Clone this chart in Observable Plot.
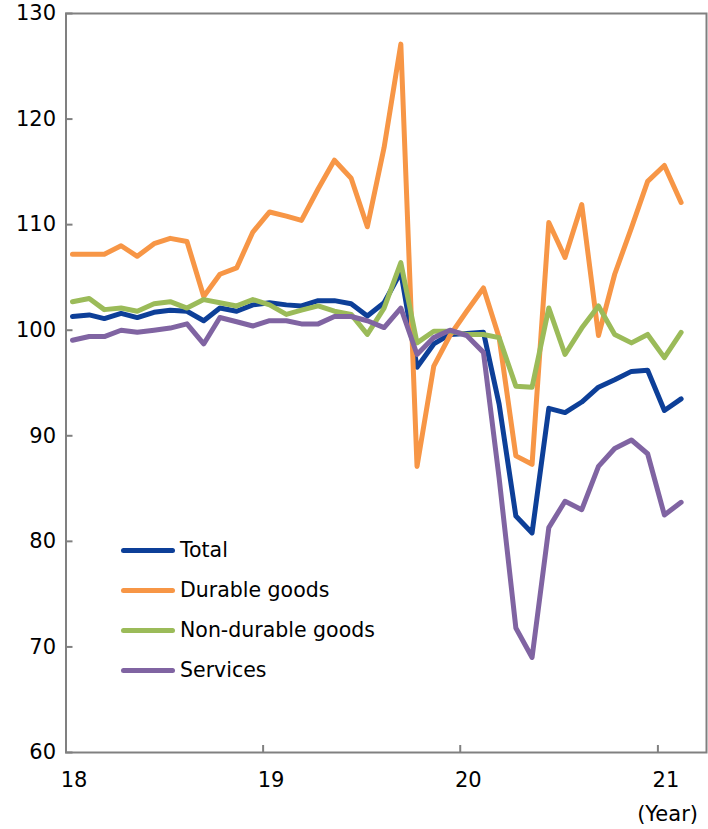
<!DOCTYPE html>
<html><head><meta charset="utf-8">
<script src="https://cdn.jsdelivr.net/npm/d3@7"></script>
<script src="https://cdn.jsdelivr.net/npm/@observablehq/plot@0.6"></script>
<style>
body{margin:0;background:#fff;}
#chart{position:relative;width:708px;height:829px;font-family:"DejaVu Sans",Verdana,sans-serif;color:#000;}
#legend{position:absolute;left:121px;top:530px;}
.item{display:flex;align-items:center;height:40px;font-size:20.5px;}
.sw{width:54px;height:5px;border-radius:3px;margin-right:5px;}
#year{position:absolute;right:10px;top:802px;font-size:21px;}
</style></head>
<body><div id="chart"></div>
<script>
const months = ["2018-01","2018-02","2018-03","2018-04","2018-05","2018-06","2018-07","2018-08","2018-09","2018-10","2018-11","2018-12",
"2019-01","2019-02","2019-03","2019-04","2019-05","2019-06","2019-07","2019-08","2019-09","2019-10","2019-11","2019-12",
"2020-01","2020-02","2020-03","2020-04","2020-05","2020-06","2020-07","2020-08","2020-09","2020-10","2020-11","2020-12",
"2021-01","2021-02"];
const total = [101.3,101.45,101.1,101.6,101.2,101.7,101.9,101.8,100.9,102.1,101.8,102.4,
102.6,102.4,102.3,102.8,102.8,102.5,101.35,102.6,105.5,96.5,98.7,99.6,
99.7,99.8,93.0,82.4,80.8,92.6,92.2,93.2,94.6,95.3,96.1,96.2,
92.4,93.5];
const durable = [107.2,107.2,107.2,108.0,107.0,108.2,108.7,108.4,103.2,105.3,105.9,109.3,
111.2,110.8,110.4,113.4,116.1,114.4,109.8,117.3,127.1,87.1,96.6,99.5,
101.8,104.0,99.3,88.1,87.3,110.2,106.9,111.9,99.5,105.3,109.7,114.1,
115.6,112.1];
const nondurable = [102.7,103.0,101.95,102.1,101.8,102.5,102.7,102.1,102.9,102.6,102.3,102.9,
102.4,101.5,101.9,102.3,101.8,101.5,99.6,102.1,106.4,98.8,99.9,99.9,
99.6,99.6,99.3,94.7,94.6,102.1,97.7,100.2,102.3,99.6,98.8,99.6,
97.4,99.8];
const services = [99.05,99.4,99.4,100.0,99.8,100.0,100.2,100.6,98.7,101.2,100.8,100.4,
100.9,100.9,100.6,100.6,101.3,101.3,100.9,100.25,102.1,97.7,99.3,100.0,
99.5,97.9,86.0,71.8,69.0,81.3,83.8,83.0,87.1,88.8,89.6,88.3,
82.5,83.7];
const seriesNames = ["Total","Durable goods","Non-durable goods","Services"];
const seriesColors = ["#0D3F98","#F79646","#9BBB59","#8064A2"];
const yTicks = [60,70,80,90,100,110,120,130];
const xTickYears = ["2018","2019","2020","2021"];
const xEnd = "2021-04";
const xUnit = "(Year)";

const parseMonth = d3.utcParse("%Y-%m");
const parseYear = d3.utcParse("%Y");
const seriesValues = [total, durable, nondurable, services];
const rows = [];
seriesNames.forEach((name, s) => months.forEach((m, i) => {
  rows.push({date: d3.utcDay.offset(parseMonth(m), 12), value: seriesValues[s][i], series: name});
}));
const yearDates = xTickYears.map(parseYear);

const chart = Plot.plot({
  width: 708, height: 829,
  marginLeft: 65.5, marginRight: 2, marginTop: 13, marginBottom: 77,
  style: {fontFamily: "'DejaVu Sans', Verdana, sans-serif", fontSize: "21px", color: "#000", background: "#fff", overflow: "visible"},
  x: {type: "utc", domain: [parseYear(xTickYears[0]), parseMonth(xEnd)]},
  y: {domain: [yTicks[0], yTicks[yTicks.length - 1]]},
  color: {domain: seriesNames, range: seriesColors},
  marks: [
    Plot.line(rows, {x: "date", y: "value", z: "series", stroke: "series", strokeWidth: 5, strokeLinejoin: "round", strokeLinecap: "round"}),
    Plot.frame({stroke: "#808080", strokeWidth: 2}),
    Plot.axisY({ticks: yTicks, tickSize: -7, tickPadding: 17, stroke: "#808080", strokeWidth: 2, fill: "#000", label: null}),
    Plot.axisX({ticks: yearDates, tickSize: -7, tickFormat: () => "", stroke: "#808080", strokeWidth: 2, label: null}),
    Plot.axisX({ticks: yearDates, tickSize: 0, tickPadding: 20, tickFormat: d3.utcFormat("%y"), dx: 8, fill: "#000", label: null})
  ]
});
const root = document.getElementById("chart");
root.appendChild(chart);
const legend = document.createElement("div");
legend.id = "legend";
seriesNames.forEach((n, i) => {
  const it = document.createElement("div"); it.className = "item";
  const sw = document.createElement("span"); sw.className = "sw"; sw.style.background = seriesColors[i];
  const tx = document.createElement("span"); tx.textContent = n;
  it.appendChild(sw); it.appendChild(tx); legend.appendChild(it);
});
root.appendChild(legend);
const yr = document.createElement("div"); yr.id = "year"; yr.textContent = xUnit;
root.appendChild(yr);
</script>
</body></html>
